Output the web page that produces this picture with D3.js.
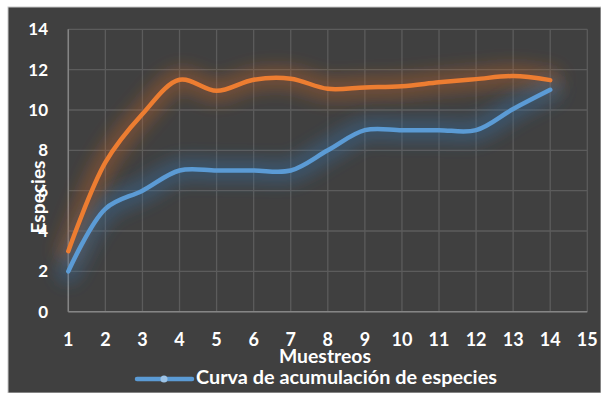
<!DOCTYPE html>
<html>
<head>
<meta charset="utf-8">
<title>Curva de acumulación de especies</title>
<style>
  body { margin: 0; background: #fff; }
  text { font-family: Lato, "Open Sans", sans-serif; fill: #fff; }
</style>
<script src="https://d3js.org/d3.v7.min.js"></script>
</head>
<body>
<script>
// datos
var muestreos = [1,2,3,4,5,6,7,8,9,10,11,12,13,14];
var curvaAcum = [2,5.1,6,7,7,7,7,8,9,9,9,9,10.05,11];          // azul
var curvaSerie2 = [3,7.4,9.8,11.5,10.95,11.5,11.55,11.05,11.12,11.18,11.37,11.53,11.68,11.48]; // naranja
var xTicks = [1,2,3,4,5,6,7,8,9,10,11,12,13,14,15];
var yTicks = [0,2,4,6,8,10,12,14];

var width = 601, height = 393;
var svg = d3.select("body").append("svg")
    .attr("width", width)
    .attr("height", height);

// fondo (con borde blanco arriba e izquierda)
svg.append("rect").attr("x", 0).attr("y", 0).attr("width", width).attr("height", height).attr("fill", "#fff");
svg.append("rect").attr("x", 8).attr("y", 7).attr("width", width - 8).attr("height", height - 7)
    .attr("fill", "#404040").attr("stroke", "#c8c8c8").attr("stroke-width", 1);

var x = d3.scaleLinear().domain([1, 15]).range([68.3, 587.3]);
var y = d3.scaleLinear().domain([0, 14]).range([311.7, 29.3]);

var defs = svg.append("defs");
defs.append("filter").attr("id", "glow")
    .attr("x", "-20%").attr("y", "-40%").attr("width", "140%").attr("height", "180%")
  .append("feGaussianBlur").attr("stdDeviation", 8);

// rejilla
var grid = svg.append("g");
grid.selectAll(".vg").data(xTicks).enter().append("line")
    .attr("x1", d => x(d)).attr("x2", d => x(d))
    .attr("y1", y(14)).attr("y2", y(0))
    .attr("stroke", "#5c5c5c").attr("stroke-width", 1.3);
grid.selectAll(".hg").data(yTicks).enter().append("line")
    .attr("x1", x(1)).attr("x2", x(15))
    .attr("y1", d => y(d)).attr("y2", d => y(d))
    .attr("stroke", "#5c5c5c").attr("stroke-width", 1.3);

// ejes
svg.append("line").attr("x1", x(1)).attr("x2", x(1)).attr("y1", y(14)).attr("y2", y(0))
    .attr("stroke", "#858585").attr("stroke-width", 1.5);
svg.append("line").attr("x1", x(1)).attr("x2", x(15)).attr("y1", y(0)).attr("y2", y(0))
    .attr("stroke", "#858585").attr("stroke-width", 1.5);

var line = d3.line()
    .x((d, i) => x(muestreos[i]))
    .y(d => y(d))
    .curve(d3.curveCatmullRom.alpha(0.5));

// resplandor
svg.append("path").attr("d", line(curvaSerie2)).attr("fill", "none")
    .attr("stroke", "#c0622a").attr("stroke-width", 24).attr("stroke-opacity", 0.38)
    .attr("stroke-linecap", "round").attr("filter", "url(#glow)");
svg.append("path").attr("d", line(curvaAcum)).attr("fill", "none")
    .attr("stroke", "#3a6fa3").attr("stroke-width", 24).attr("stroke-opacity", 0.42)
    .attr("stroke-linecap", "round").attr("filter", "url(#glow)");

// lineas
svg.append("path").attr("d", line(curvaSerie2)).attr("fill", "none")
    .attr("stroke", "#ED7D31").attr("stroke-width", 4.5).attr("stroke-linecap", "round");
svg.append("path").attr("d", line(curvaAcum)).attr("fill", "none")
    .attr("stroke", "#5B9BD5").attr("stroke-width", 4.5).attr("stroke-linecap", "round");

// etiquetas eje y
svg.selectAll(".ylab").data(yTicks).enter().append("text")
    .attr("x", 48).attr("y", d => y(d) + 6)
    .attr("text-anchor", "end")
    .attr("font-size", 17).attr("font-weight", "bold")
    .text(d => d);

// etiquetas eje x
svg.selectAll(".xlab").data(xTicks).enter().append("text")
    .attr("x", d => x(d)).attr("y", 346)
    .attr("text-anchor", "middle")
    .attr("font-size", 18).attr("font-weight", "bold")
    .text(d => d);

// titulos de ejes
svg.append("text")
    .attr("transform", "translate(44.5,197) rotate(-90)")
    .attr("text-anchor", "middle")
    .attr("font-size", 18).attr("font-weight", "bold")
    .attr("textLength", 73).attr("lengthAdjust", "spacingAndGlyphs")
    .text("Especies");
svg.append("text")
    .attr("x", 325).attr("y", 362.7)
    .attr("text-anchor", "middle")
    .attr("font-size", 18).attr("font-weight", "bold")
    .attr("textLength", 92).attr("lengthAdjust", "spacingAndGlyphs")
    .text("Muestreos");

// leyenda
svg.append("line").attr("x1", 137).attr("x2", 192).attr("y1", 379).attr("y2", 379)
    .attr("stroke", "#5B9BD5").attr("stroke-width", 4.5).attr("stroke-linecap", "round");
svg.append("circle").attr("cx", 164).attr("cy", 379).attr("r", 3.5)
    .attr("fill", "#9dc3e6");
svg.append("text")
    .attr("x", 196).attr("y", 384.3)
    .attr("font-size", 18).attr("font-weight", "bold")
    .attr("textLength", 301).attr("lengthAdjust", "spacingAndGlyphs")
    .text("Curva de acumulación de especies");
</script>
</body>
</html>
